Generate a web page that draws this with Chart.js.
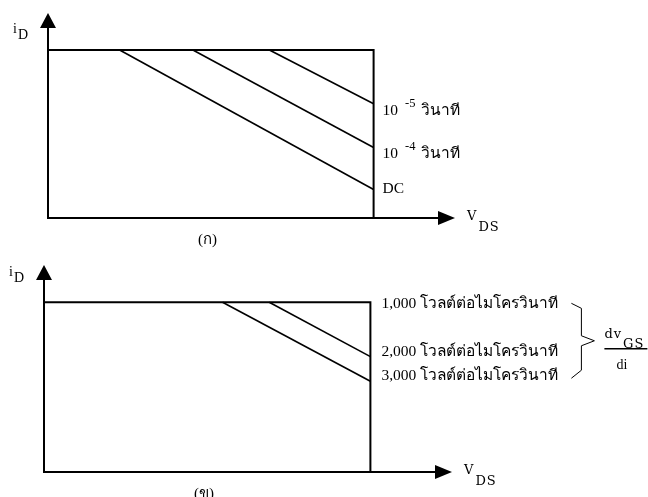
<!DOCTYPE html>
<html lang="th">
<head>
<meta charset="utf-8">
<title>SOA</title>
<script src="https://cdn.jsdelivr.net/npm/chart.js@4.4.1/dist/chart.umd.min.js"></script>
<style>
    body { margin: 0; background: #fff; }
    #wrap { position: relative; width: 648px; height: 497px; }
    #wrap canvas { position: absolute; left: 0; top: 0; }
</style>
</head>
<body>
<div id="wrap">
    <canvas id="soaPulse" width="648" height="497"></canvas>
    <canvas id="soaRate" width="648" height="497"></canvas>
</div>
<script>
// axis lengths (arrow tips) and the rated i_D / V_DS limits
const xMax = 12.5;
const yMax = 12.2;
const ratedV = 10;
const ratedI = 10;

// (ก) pulse width limits
const pulseBase = ['10', '10', 'DC'];
const pulseExp = ['-5', '-4', ''];
const pulseUnit = ['วินาที', 'วินาที', ''];
const pulseStartV = [6.8, 4.45, 2.2];   // V_DS where the line leaves the i_D limit
const pulseEndI = [6.8, 4.2, 1.7];      // i_D where the line meets the V_DS limit

// (ข) dv/dt limits
const rateText = ['1,000 โวลต์ต่อไมโครวินาที', '2,000 โวลต์ต่อไมโครวินาที', '3,000 โวลต์ต่อไมโครวินาที'];
const rateStartV = [10, 6.9, 5.47];
const rateEndI = [10, 6.8, 5.35];

const ink = '#000';
const serif = '"Liberation Serif", "DejaVu Serif", serif';
const wideSerif = '"DejaVu Serif", serif';
const bodyFont = '15.5px ' + serif;

function boxDataset() {
    return {
        data: [{ x: 0, y: ratedI }, { x: ratedV, y: ratedI }, { x: ratedV, y: 0 }],
        showLine: true, borderColor: ink, borderWidth: 2, pointRadius: 0, clip: false
    };
}

function limitDatasets(startV, endI) {
    return startV.map((v, i) => ({
        data: [{ x: v, y: ratedI }, { x: ratedV, y: endI[i] }],
        showLine: true, borderColor: ink, borderWidth: 1.6, pointRadius: 0, clip: false
    }));
}

// symbol with a lowered suffix, e.g. i_D, V_DS
function subText(ctx, main, sub, px, py, drop, font) {
    ctx.font = font;
    ctx.fillText(main, px, py);
    const w = ctx.measureText(main).width;
    ctx.fillText(sub, px + w + 1, py + drop);
}

const sketch = {
    id: 'sketch',
    afterDraw(chart, args, opts) {
        const { ctx } = chart;
        const { x, y } = chart.scales;
        const ox = x.getPixelForValue(0), oy = y.getPixelForValue(0);
        const tx = x.getPixelForValue(xMax), ty = y.getPixelForValue(yMax);
        ctx.save();
        ctx.strokeStyle = ink;
        ctx.fillStyle = ink;
        ctx.lineWidth = 2;

        // axes with arrowheads
        ctx.beginPath();
        ctx.moveTo(ox, ty + 12);
        ctx.lineTo(ox, oy);
        ctx.lineTo(tx - 14, oy);
        ctx.stroke();
        ctx.beginPath();
        ctx.moveTo(ox, ty);
        ctx.lineTo(ox - 8, ty + 15);
        ctx.lineTo(ox + 8, ty + 15);
        ctx.closePath();
        ctx.fill();
        ctx.beginPath();
        ctx.moveTo(tx, oy);
        ctx.lineTo(tx - 17, oy - 7);
        ctx.lineTo(tx - 17, oy + 7);
        ctx.closePath();
        ctx.fill();

        ctx.textAlign = 'left';
        ctx.textBaseline = 'alphabetic';
        subText(ctx, 'i', 'D', ox - 35, ty + opts.iDrop, 6, '14px ' + serif);
        ctx.letterSpacing = '1px';
        subText(ctx, 'V', 'DS', tx + 12, oy + 2, 11, '13px ' + wideSerif);
        ctx.letterSpacing = '0px';

        ctx.font = '15px ' + serif;
        ctx.fillText(opts.caption, ox + 150, oy + 26);

        opts.labels(chart, ctx, x, y);
        ctx.restore();
    }
};

function baseChart(id, datasets, padding, opts) {
    return new Chart(document.getElementById(id), {
        type: 'scatter',
        data: { datasets },
        options: {
            responsive: false,
            animation: false,
            layout: { padding },
            scales: {
                x: { type: 'linear', min: 0, max: xMax, display: false },
                y: { type: 'linear', min: 0, max: yMax, display: false }
            },
            plugins: { legend: { display: false }, tooltip: { enabled: false }, sketch: opts }
        },
        plugins: [sketch]
    });
}

baseChart('soaPulse',
    [boxDataset(), ...limitDatasets(pulseStartV, pulseEndI)],
    { left: 48, top: 13, right: 193, bottom: 279 },
    {
        caption: '(ก)',
        iDrop: 20,
        labels(chart, ctx, x, y) {
            const lx = x.getPixelForValue(ratedV) + 9;
            const shift = [11, 11, 4];
            pulseBase.forEach((base, i) => {
                const py = y.getPixelForValue(pulseEndI[i]) + shift[i];
                ctx.font = bodyFont;
                ctx.fillText(base, lx, py);
                let cx = lx + ctx.measureText(base).width;
                if (pulseExp[i]) {
                    ctx.font = '12.5px ' + serif;
                    ctx.fillText(pulseExp[i], cx + 7, py - 8);
                    cx += ctx.measureText(pulseExp[i]).width + 7;
                }
                if (pulseUnit[i]) {
                    ctx.font = bodyFont;
                    ctx.fillText(pulseUnit[i], cx + 5, py);
                }
            });
        }
    });

baseChart('soaRate',
    [boxDataset(), ...limitDatasets(rateStartV.slice(1), rateEndI.slice(1))],
    { left: 44, top: 265, right: 196, bottom: 25 },
    {
        caption: '(ข)',
        iDrop: 11,
        labels(chart, ctx, x, y) {
            const bx = x.getPixelForValue(ratedV);
            const shift = [6, -1, -1];
            const rows = rateText.map((t, i) => y.getPixelForValue(rateEndI[i]) + shift[i]);
            ctx.font = bodyFont;
            rateText.forEach((t, i) => ctx.fillText(t, bx + 11, rows[i]));

            // brace grouping the three rates
            const top = rows[0] - 5, bot = rows[2] - 2, mid = (top + bot) / 2;
            ctx.lineWidth = 1;
            ctx.beginPath();
            ctx.moveTo(bx + 201, top);
            ctx.lineTo(bx + 211, top + 5);
            ctx.lineTo(bx + 211, mid - 5);
            ctx.lineTo(bx + 224, mid);
            ctx.lineTo(bx + 211, mid + 5);
            ctx.lineTo(bx + 211, bot - 8);
            ctx.lineTo(bx + 201, bot);
            ctx.stroke();

            // dv_GS / di
            ctx.letterSpacing = '1px';
            subText(ctx, 'dv', 'GS', bx + 234, mid - 3, 10, '13px ' + wideSerif);
            ctx.letterSpacing = '0px';
            ctx.lineWidth = 1.5;
            ctx.beginPath();
            ctx.moveTo(bx + 234, mid + 8);
            ctx.lineTo(bx + 277, mid + 8);
            ctx.stroke();
            ctx.font = '14px ' + serif;
            ctx.fillText('di', bx + 246, mid + 28);
        }
    });
</script>
</body>
</html>
